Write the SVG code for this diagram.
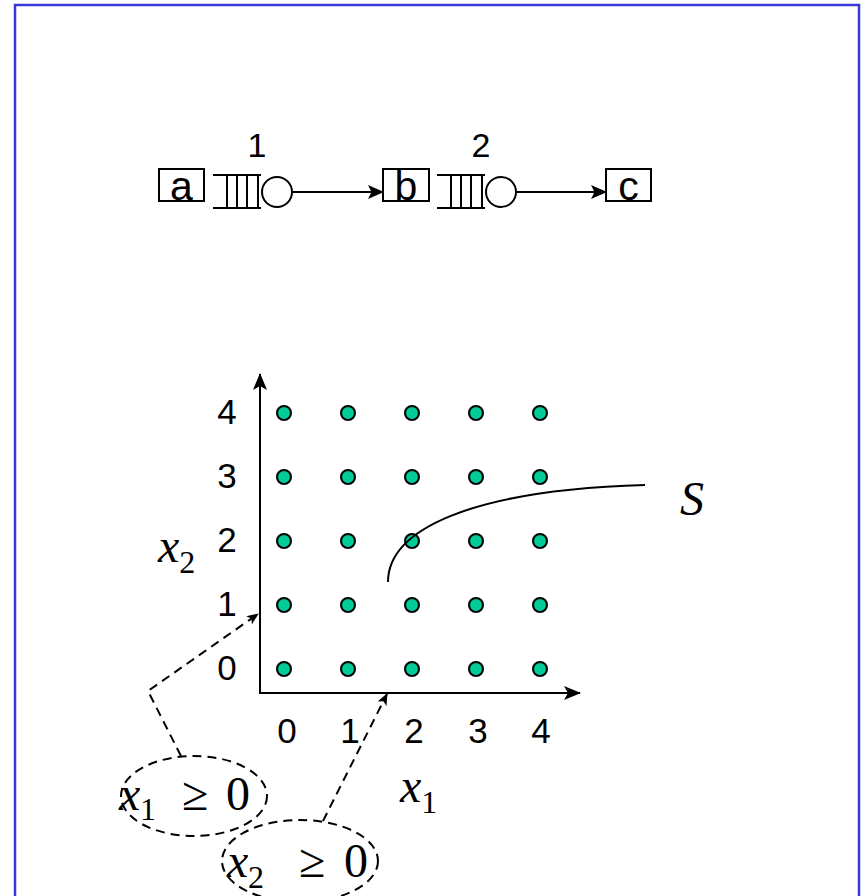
<svg xmlns="http://www.w3.org/2000/svg" width="864" height="896" viewBox="0 0 864 896">
<style>
.sans{font-family:"Liberation Sans",Arial,sans-serif;fill:#000}
.serif{font-family:"Liberation Serif","Times New Roman",serif;fill:#000}
.it{font-style:italic}
.box{fill:#fff;stroke:#000;stroke-width:2}
.ln{fill:none;stroke:#000;stroke-width:2}
.dash{fill:none;stroke:#000;stroke-width:2;stroke-dasharray:9,6}
.dot{fill:#00cc99;stroke:#000;stroke-width:2}
</style>
<defs>
<marker id="ah" markerWidth="16" markerHeight="14" refX="15" refY="7" orient="auto" markerUnits="userSpaceOnUse">
<path d="M0,0 L16,7 L0,14 L3.5,7 Z" fill="#000"/>
</marker>
<marker id="ax" markerWidth="17" markerHeight="14" refX="16" refY="7" orient="auto" markerUnits="userSpaceOnUse">
<path d="M0,0 L17,7 L0,14 L4,7 Z" fill="#000"/>
</marker>
<marker id="dh" markerWidth="12" markerHeight="10" refX="11" refY="5" orient="auto" markerUnits="userSpaceOnUse">
<path d="M0,0 L12,5 L0,10 L3,5 Z" fill="#000"/>
</marker>
</defs>
<rect x="15" y="5" width="844" height="905" fill="#fff" stroke="#3838d8" stroke-width="2.5"/>

<g id="node-a">
<rect class="box" x="159" y="169" width="45" height="32"/>
<text class="sans" x="181.5" y="199.5" font-size="41" text-anchor="middle">a</text>
</g>
<g id="queue-1">
<path class="ln" d="M213,175 H261 M213,208 H261 M227,175 V208 M237,175 V208 M247,175 V208 M258,175 V208"/>
<circle class="ln" cx="277" cy="192" r="15"/>
<text class="sans" x="257" y="157" font-size="34" text-anchor="middle">1</text>
</g>
<g id="node-b">
<rect class="box" x="383" y="169" width="46" height="32"/>
<text class="sans" x="406" y="199.5" font-size="41" text-anchor="middle">b</text>
</g>
<g id="queue-2">
<path class="ln" d="M437,175 H485 M437,208 H485 M451,175 V208 M461,175 V208 M471,175 V208 M482,175 V208"/>
<circle class="ln" cx="501" cy="192" r="15"/>
<text class="sans" x="481" y="157" font-size="34" text-anchor="middle">2</text>
</g>
<g id="node-c">
<rect class="box" x="606" y="169" width="45" height="32"/>
<text class="sans" x="628.5" y="199.5" font-size="41" text-anchor="middle">c</text>
</g>

<g id="axes">
<line class="ln" x1="260" y1="693" x2="260" y2="374" stroke-width="2.5" marker-end="url(#ax)"/>
<line class="ln" x1="259" y1="693" x2="580" y2="693" stroke-width="2.5" marker-end="url(#ax)"/>
<g class="sans" font-size="35" text-anchor="middle">
<text x="227" y="424">4</text>
<text x="227" y="488">3</text>
<text x="227" y="552">2</text>
<text x="227" y="616">1</text>
<text x="227" y="680">0</text>
<text x="287" y="743">0</text>
<text x="350" y="743">1</text>
<text x="414" y="743">2</text>
<text x="478" y="743">3</text>
<text x="541" y="743">4</text>
</g>
<text class="serif it" x="158" y="562" font-size="48">x<tspan font-style="normal" font-size="32" dy="11">2</tspan></text>
<text class="serif it" x="400" y="802" font-size="48">x<tspan font-style="normal" font-size="32" dy="11">1</tspan></text>
</g>

<g id="points">
<circle class="dot" cx="284" cy="413" r="7"/><circle class="dot" cx="348" cy="413" r="7"/><circle class="dot" cx="412" cy="413" r="7"/><circle class="dot" cx="476" cy="413" r="7"/><circle class="dot" cx="540" cy="413" r="7"/>
<circle class="dot" cx="284" cy="477" r="7"/><circle class="dot" cx="348" cy="477" r="7"/><circle class="dot" cx="412" cy="477" r="7"/><circle class="dot" cx="476" cy="477" r="7"/><circle class="dot" cx="540" cy="477" r="7"/>
<circle class="dot" cx="284" cy="541" r="7"/><circle class="dot" cx="348" cy="541" r="7"/><circle class="dot" cx="412" cy="541" r="7"/><circle class="dot" cx="476" cy="541" r="7"/><circle class="dot" cx="540" cy="541" r="7"/>
<circle class="dot" cx="284" cy="605" r="7"/><circle class="dot" cx="348" cy="605" r="7"/><circle class="dot" cx="412" cy="605" r="7"/><circle class="dot" cx="476" cy="605" r="7"/><circle class="dot" cx="540" cy="605" r="7"/>
<circle class="dot" cx="284" cy="669" r="7"/><circle class="dot" cx="348" cy="669" r="7"/><circle class="dot" cx="412" cy="669" r="7"/><circle class="dot" cx="476" cy="669" r="7"/><circle class="dot" cx="540" cy="669" r="7"/>
</g>

<g id="curve-S">
<path class="ln" d="M388,582 C388,530 470,490 645,485"/>
<text class="serif it" x="680" y="515" font-size="48">S</text>
</g>

<g id="constraint-1">
<ellipse class="dash" cx="194" cy="796" rx="73" ry="40"/>
<text class="serif" font-size="48" y="810"><tspan x="119" font-style="italic">x</tspan><tspan x="140" font-size="32" dy="10">1</tspan><tspan x="182" dy="-10">≥</tspan><tspan x="226">0</tspan></text>
</g>
<g id="constraint-2">
<ellipse class="dash" cx="300" cy="861" rx="78" ry="41"/>
<text class="serif" font-size="48" y="877"><tspan x="227" font-style="italic">x</tspan><tspan x="248" font-size="32" dy="11">2</tspan><tspan x="299" dy="-11">≥</tspan><tspan x="344">0</tspan></text>
</g>

<g id="connectors">
<line class="ln" x1="292" y1="192" x2="383" y2="192" marker-end="url(#ah)"/>
<line class="ln" x1="516" y1="192" x2="606" y2="192" marker-end="url(#ah)"/>
<polyline class="dash" points="181,756 148,691 258,614" marker-end="url(#dh)"/>
<line class="dash" x1="323" y1="821" x2="387" y2="694" marker-end="url(#dh)"/>
</g>
</svg>
